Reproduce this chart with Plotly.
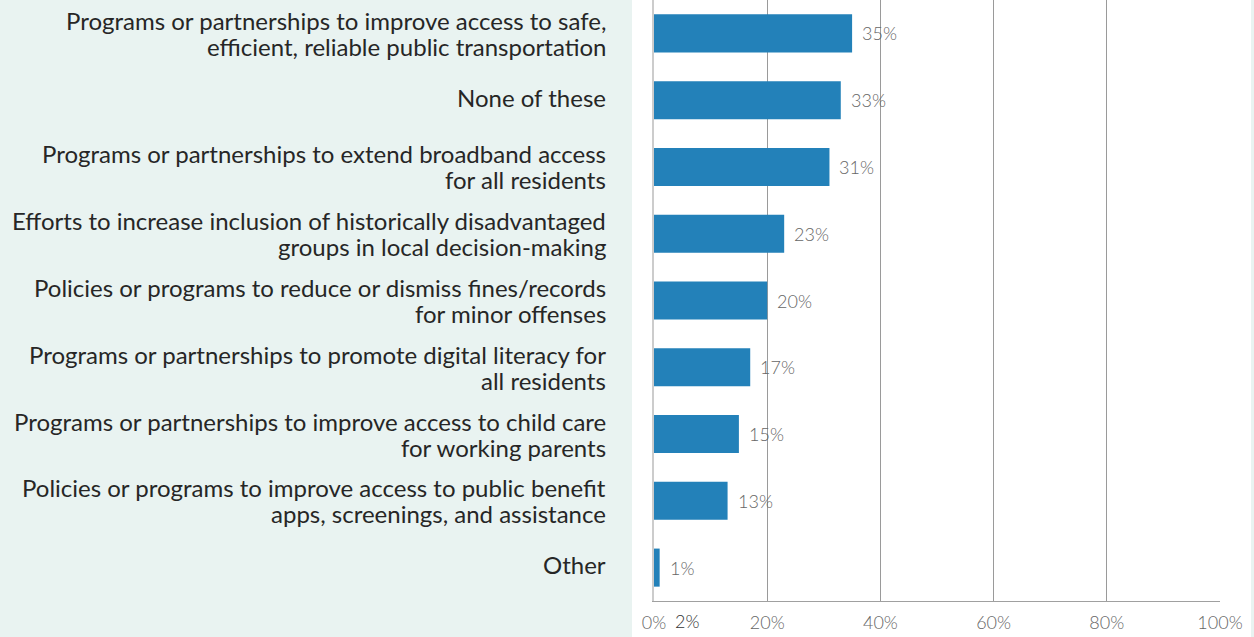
import plotly.graph_objects as go

categories = [
    "Programs or partnerships to improve access to safe,<br>efficient, reliable public transportation",
    "None of these",
    "Programs or partnerships to extend broadband access<br>for all residents",
    "Efforts to increase inclusion of historically disadvantaged<br>groups in local decision-making",
    "Policies or programs to reduce or dismiss fines/records<br>for minor offenses",
    "Programs or partnerships to promote digital literacy for<br>all residents",
    "Programs or partnerships to improve access to child care<br>for working parents",
    "Policies or programs to improve access to public benefit<br>apps, screenings, and assistance",
    "Other",
]
values = [35, 33, 31, 23, 20, 17, 15, 13, 1]
value_labels = ["35%", "33%", "31%", "23%", "20%", "17%", "15%", "13%", "1%"]
tick_vals = [0, 20, 40, 60, 80, 100]
tick_text = ["0%", "20%", "40%", "60%", "80%", "100%"]
extra_tick_label = "2%"

BAR = "#2381b9"
MINT = "#e9f3f1"

fig = go.Figure()
fig.add_trace(go.Bar(
    x=values, y=categories, orientation="h",
    marker=dict(color=BAR, line=dict(width=0)),
    width=0.57, hoverinfo="skip",
))

annotations = []
for c, v, t in zip(categories, values, value_labels):
    annotations.append(dict(
        x=v, y=c, xref="x", yref="y", text=t, showarrow=False,
        xanchor="left", yanchor="middle", xshift=8,
        font=dict(family="Lato", size=18, color="#666666", weight=300),
    ))
    lines = c.split("<br>")
    if len(lines) == 1:
        shifts = [3]
    else:
        shifts = [13, -13]
    for ln, sh in zip(lines, shifts):
        annotations.append(dict(
            x=0, y=c, xref="x", yref="y", text=ln, showarrow=False,
            xanchor="right", yanchor="middle", xshift=-46, yshift=sh,
            font=dict(family="Lato", size=24, color="#262626"),
        ))
annotations.append(dict(
    x=5.8, y=-0.034, xref="x", yref="paper", text=extra_tick_label, showarrow=False,
    xanchor="center", yanchor="middle",
    font=dict(family="Lato", size=18, color="#333333", weight=300),
))

fig.update_layout(
    width=1254, height=637,
    margin=dict(l=654, r=34, t=0, b=36),
    paper_bgcolor=MINT,
    plot_bgcolor="rgba(0,0,0,0)",
    showlegend=False,
    bargap=0.43,
    font=dict(family="Lato", color="#333333"),
    shapes=[dict(
        type="rect", xref="paper", yref="paper",
        x0=(632 - 654) / 566, x1=(1251 - 654) / 566, y0=-0.2, y1=1.05,
        fillcolor="white", line=dict(width=0), layer="below",
    )],
    annotations=annotations,
    xaxis=dict(
        range=[0, 100], tickvals=tick_vals, ticktext=tick_text,
        showgrid=True, gridcolor="#9a9a9a", gridwidth=1,
        zeroline=False, showline=True, linecolor="#a0a0a0", linewidth=1,
        ticks="", ticklabelstandoff=5,
        tickfont=dict(family="Lato", size=18, color="#666666", weight=300),
        fixedrange=True,
    ),
    yaxis=dict(
        autorange="reversed",
        showgrid=False, zeroline=False,
        showline=True, linecolor="#cccccc", linewidth=2,
        ticks="", showticklabels=False,
        fixedrange=True,
    ),
)

fig.write_html("out.html")
